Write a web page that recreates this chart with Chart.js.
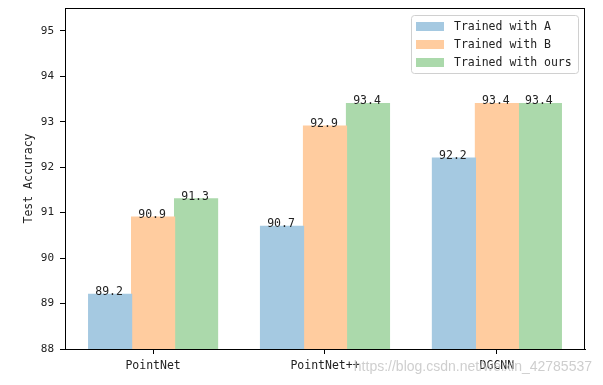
<!DOCTYPE html>
<html>
<head>
<meta charset="utf-8">
<script src="https://cdn.jsdelivr.net/npm/chart.js@4"></script>
<style>
  html, body { margin: 0; padding: 0; background: #fff; }
  #wrap { width: 603px; height: 385px; }
</style>
</head>
<body>
<div id="wrap"><canvas id="acc-chart" width="603" height="385"></canvas></div>
<script>
var models = ['PointNet', 'PointNet++', 'DGCNN'];
var trainedA = [89.2, 90.7, 92.2];
var trainedB = [90.9, 92.9, 93.4];
var trainedOurs = [91.3, 93.4, 93.4];
var seriesNames = ['Trained with A', 'Trained with B', 'Trained with ours'];
var yTicks = [88, 89, 90, 91, 92, 93, 94, 95];

var MONO = '"DejaVu Sans Mono", monospace';

function toPoints(vals) {
    return vals.map(function(v, i) { return {x: i, y: v}; });
}

// frame on all four sides like matplotlib spines
var framePlugin = {
    id: 'frame',
    afterDatasetsDraw: function(chart) {
        var a = chart.chartArea, c = chart.ctx;
        c.save();
        c.strokeStyle = '#000';
        c.lineWidth = 1;
        c.strokeRect(Math.round(a.left) + 0.5, Math.round(a.top) + 0.5,
            Math.round(a.right - a.left) - 1, Math.round(a.bottom - a.top));
        c.restore();
    }
};

// value on top of each bar
var valuePlugin = {
    id: 'values',
    afterDatasetsDraw: function(chart) {
        var c = chart.ctx;
        c.save();
        c.font = '11.5px ' + MONO;
        c.fillStyle = '#222';
        c.textAlign = 'center';
        c.textBaseline = 'alphabetic';
        chart.data.datasets.forEach(function(ds, di) {
            chart.getDatasetMeta(di).data.forEach(function(bar, i) {
                c.fillText(ds.data[i].y.toFixed(1), bar.x - 1, bar.y + 1);
            });
        });
        c.restore();
    }
};

// legend box in upper right of the plot
var legendPlugin = {
    id: 'boxLegend',
    afterDraw: function(chart) {
        var a = chart.chartArea, c = chart.ctx;
        var w = 167, h = 58;
        var x = a.right - 7 - w, y = a.top + 7;
        c.save();
        c.fillStyle = 'rgba(255,255,255,0.8)';
        c.strokeStyle = '#d0d0d0';
        c.lineWidth = 1;
        c.beginPath();
        c.roundRect(x + 0.5, y + 0.5, w, h, 3);
        c.fill();
        c.stroke();
        c.font = '11.5px ' + MONO;
        c.textBaseline = 'middle';
        c.textAlign = 'left';
        chart.data.datasets.forEach(function(ds, i) {
            var cy = y + 11 + i * 18;
            c.fillStyle = ds.backgroundColor;
            c.fillRect(x + 5, cy - 4, 28, 9);
            c.fillStyle = '#222';
            c.fillText(ds.label, x + 43, cy + 1);
        });
        c.restore();
    }
};

var watermarkPlugin = {
    id: 'watermark',
    afterDraw: function(chart) {
        var c = chart.ctx;
        c.save();
        c.font = '14px "Liberation Sans", Arial, sans-serif';
        c.fillStyle = 'rgba(190,190,190,0.75)';
        c.textAlign = 'right';
        c.textBaseline = 'alphabetic';
        c.fillText('https://blog.csdn.net/weixin_42785537', 592, 371);
        c.restore();
    }
};

var ctx = document.getElementById('acc-chart').getContext('2d');
var chart = new Chart(ctx, {
    type: 'bar',
    data: {
        datasets: [{
            label: seriesNames[0],
            data: toPoints(trainedA),
            backgroundColor: '#a5c9e1'
        }, {
            label: seriesNames[1],
            data: toPoints(trainedB),
            backgroundColor: '#ffcc9f'
        }, {
            label: seriesNames[2],
            data: toPoints(trainedOurs),
            backgroundColor: '#abd9ab'
        }]
    },
    options: {
        responsive: false,
        animation: false,
        layout: { padding: { left: 0, right: 18, top: 8, bottom: 0 } },
        datasets: {
            bar: { categoryPercentage: 0.75, barPercentage: 1.0, borderWidth: 0, inflateAmount: 0.6 }
        },
        plugins: {
            legend: { display: false },
            tooltip: { enabled: false }
        },
        scales: {
            x: {
                type: 'linear',
                min: -0.5125,
                max: 2.5125,
                offset: false,
                afterBuildTicks: function(axis) {
                    axis.ticks = models.map(function(m, i) { return {value: i}; });
                },
                afterFit: function(axis) {
                    axis.height = 36;
                    axis.paddingLeft = 0;
                    axis.paddingRight = 0;
                },
                grid: { offset: false, drawOnChartArea: false, color: '#000', tickLength: 5, tickWidth: 1 },
                border: { color: '#000', width: 1 },
                ticks: {
                    color: '#222',
                    font: { family: MONO, size: 11.5 },
                    padding: 5,
                    maxRotation: 0,
                    callback: function(v) { return models[v]; }
                }
            },
            y: {
                min: 88,
                max: 95.5,
                afterBuildTicks: function(axis) {
                    axis.ticks = yTicks.map(function(v) { return {value: v}; });
                },
                afterFit: function(axis) {
                    axis.width = 65;
                    axis.paddingTop = 0;
                    axis.paddingBottom = 0;
                },
                grid: { drawOnChartArea: false, color: '#000', tickLength: 5, tickWidth: 1 },
                border: { color: '#000', width: 1 },
                ticks: {
                    color: '#222',
                    font: { family: MONO, size: 11 },
                    padding: 6
                },
                title: {
                    display: true,
                    text: 'Test Accuracy',
                    color: '#222',
                    font: { family: MONO, size: 11.5 },
                    padding: { top: 22, bottom: 0 }
                }
            }
        }
    },
    plugins: [framePlugin, valuePlugin, legendPlugin, watermarkPlugin]
});
</script>
</body>
</html>
